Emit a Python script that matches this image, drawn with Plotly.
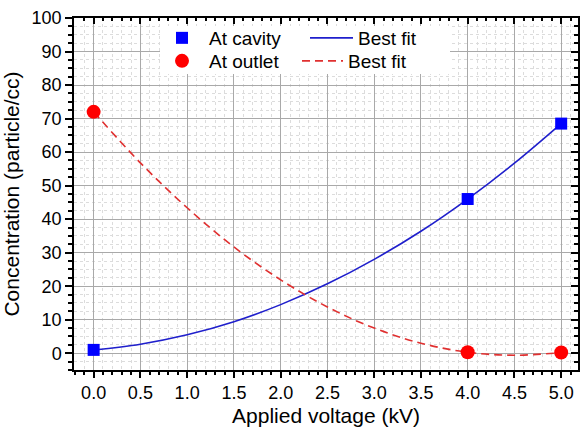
import plotly.graph_objects as go

# measured points
voltage = [0.0, 4.0, 5.0]
cavity = [1.0, 46.0, 68.5]
outlet = [72.0, 0.3, 0.2]

# best-fit curves
fit_x = [0.0, 0.5, 1.0, 1.5, 2.0, 2.5, 3.0, 3.5, 4.0, 4.5, 5.0]
fit_cavity = [1.0, 2.7, 5.5, 9.4, 14.5, 20.7, 28.0, 36.4, 46.0, 56.7, 68.5]
fit_outlet = [72.0, 56.8, 43.4, 31.7, 21.9, 13.8, 7.5, 3.0, 0.3, -0.6, 0.2]

x_ticks = [0.0, 0.5, 1.0, 1.5, 2.0, 2.5, 3.0, 3.5, 4.0, 4.5, 5.0]
x_labels = ["0.0", "0.5", "1.0", "1.5", "2.0", "2.5", "3.0", "3.5", "4.0", "4.5", "5.0"]
y_ticks = [0, 10, 20, 30, 40, 50, 60, 70, 80, 90, 100]

FONT = "Liberation Sans, Arial, sans-serif"
BLUE = "#0000ff"
BLUE_LINE = "#1f1fcc"
RED = "#ff0000"
RED_LINE = "#e03030"

W, H = 580, 432
ML, MR, MT, MB = 74, 2, 18, 62
PW, PH = W - ML - MR, H - MT - MB
xr = [-0.21, 5.18]
yr = [-5, 100]


def px_x(p):
    return (p - ML) / PW


def px_y(p):
    return (H - MB - p) / PH


def dx(p):
    return xr[0] + px_x(p) * (xr[1] - xr[0])


def dy(p):
    return yr[0] + px_y(p) * (yr[1] - yr[0])


fig = go.Figure()
fig.add_trace(go.Scatter(x=fit_x, y=fit_cavity, mode="lines", name="Best fit",
                         line=dict(color=BLUE_LINE, width=1.6, shape="spline"), legend="legend3"))
fig.add_trace(go.Scatter(x=fit_x, y=fit_outlet, mode="lines", name="Best fit",
                         line=dict(color=RED_LINE, width=1.6, dash="8px,5px", shape="spline"),
                         legend="legend4"))
fig.add_trace(go.Scatter(x=voltage, y=cavity, mode="markers", name="At cavity",
                         marker=dict(symbol="square", size=12, color=BLUE), legend="legend"))
fig.add_trace(go.Scatter(x=voltage, y=outlet, mode="markers", name="At outlet",
                         marker=dict(symbol="circle", size=14, color=RED), legend="legend2"))
# dummy trace to activate mirror axes (top/right with inward ticks)
fig.add_trace(go.Scatter(x=[None], y=[None], xaxis="x2", yaxis="y2", showlegend=False,
                         hoverinfo="skip"))

grid_major = "#a9a9a9"
grid_minor = "#dcdcdc"

leg_common = dict(xanchor="left", yanchor="middle", bgcolor="rgba(0,0,0,0)",
                  font=dict(size=19), borderwidth=0)

fig.update_layout(
    width=W, height=H,
    margin=dict(l=ML, r=MR, t=MT, b=MB),
    paper_bgcolor="white", plot_bgcolor="white",
    font=dict(family=FONT, size=18, color="black"),
    xaxis=dict(range=xr, tickvals=x_ticks, ticktext=x_labels, ticks="outside", ticklen=6,
               tickwidth=1.5, tickcolor="black", showline=True, linecolor="black", linewidth=1.5,
               showgrid=True, gridcolor=grid_major, gridwidth=1, zeroline=False,
               minor=dict(dtick=0.1, tick0=0, ticks="outside", ticklen=3, tickcolor="black",
                          showgrid=True, gridcolor=grid_minor, griddash="dot", gridwidth=1),
               title=dict(text="Applied voltage (kV)", font=dict(size=21), standoff=6),
               tickfont=dict(size=18)),
    yaxis=dict(range=yr, tickvals=y_ticks, ticks="outside", ticklen=7, tickwidth=1.5,
               tickcolor="black", showline=True, linecolor="black", linewidth=1.5,
               showgrid=True, gridcolor=grid_major, gridwidth=1, zeroline=False,
               minor=dict(dtick=2.5, tick0=0, ticks="outside", ticklen=4, tickcolor="black",
                          showgrid=True, gridcolor=grid_minor, griddash="dot", gridwidth=1),
               title=dict(text="Concentration (particle/cc)", font=dict(size=21), standoff=6),
               tickfont=dict(size=18)),
    xaxis2=dict(range=xr, overlaying="x", side="top", anchor="y2", tickvals=x_ticks,
                showticklabels=False, ticks="inside", ticklen=6, tickwidth=1.5, tickcolor="black",
                showline=True, linecolor="black", linewidth=1.5, showgrid=False, zeroline=False,
                minor=dict(dtick=0.1, tick0=0, ticks="inside", ticklen=3, tickcolor="black",
                           showgrid=False)),
    yaxis2=dict(range=yr, overlaying="y", side="right", anchor="x2", tickvals=y_ticks,
                showticklabels=False, ticks="inside", ticklen=7, tickwidth=1.5, tickcolor="black",
                showline=True, linecolor="black", linewidth=1.5, showgrid=False, zeroline=False,
                minor=dict(dtick=2.5, tick0=0, ticks="inside", ticklen=4, tickcolor="black",
                           showgrid=False)),
    legend=dict(x=px_x(155), y=px_y(38), itemwidth=44, **leg_common),
    legend2=dict(x=px_x(155), y=px_y(61), itemwidth=44, **leg_common),
    legend3=dict(x=px_x(305), y=px_y(38), itemwidth=43, **leg_common),
    legend4=dict(x=px_x(297), y=px_y(61), itemwidth=41, **leg_common),
    showlegend=True,
    shapes=[dict(type="rect", xref="x", yref="y", layer="between",
                 x0=dx(160), x1=dx(450), y0=dy(74), y1=dy(26),
                 fillcolor="white", line=dict(width=0))],
)

fig.write_html("out.html")
